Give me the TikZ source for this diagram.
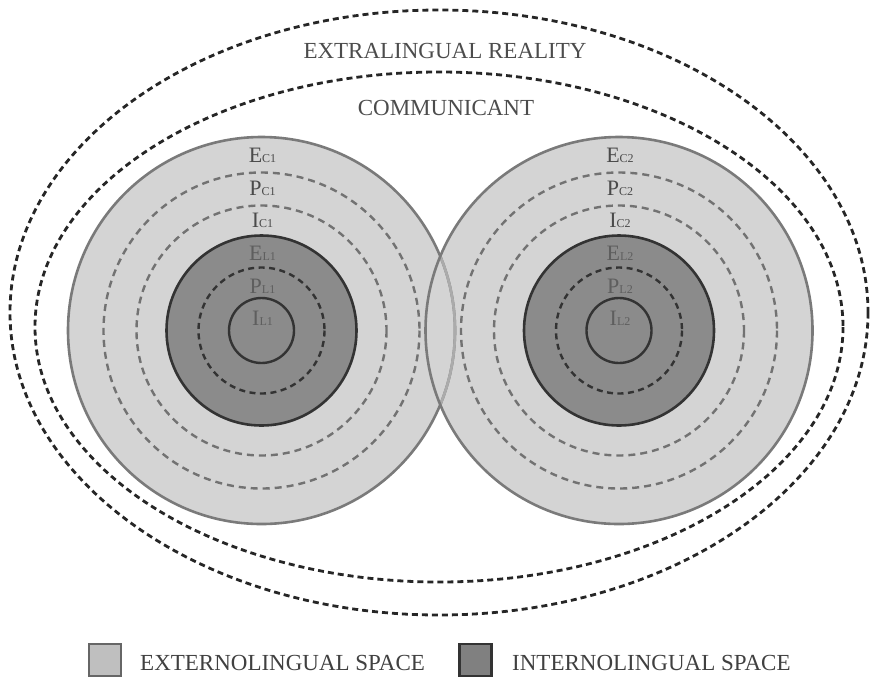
\documentclass[tikz,border=0pt]{standalone}
\usepackage{fontspec}
\setmainfont{Liberation Serif}

\definecolor{extgray}{HTML}{D4D4D4}
\definecolor{intgray}{HTML}{8B8B8B}
\definecolor{rimgray}{HTML}{7A7A7A}
\definecolor{rimlight}{HTML}{ABABAB}
\definecolor{dashgray}{HTML}{727272}
\definecolor{coregray}{HTML}{333333}
\definecolor{lblext}{HTML}{4A4A4A}
\definecolor{lblint}{HTML}{5E5E5E}

\newcommand{\lowidx}[1]{{\fontsize{12}{12}\selectfont#1}}

\tikzset{
  rim/.style={draw=rimgray,line width=2.6pt},
  extdash/.style={draw=dashgray,line width=2.4pt,dash pattern=on 7pt off 5pt},
  core/.style={draw=coregray,fill=intgray,line width=2.6pt},
  intdash/.style={draw=coregray,line width=2.4pt,dash pattern=on 6pt off 4.5pt},
  intline/.style={draw=coregray,line width=2.4pt},
  reality/.style={draw=black!85,line width=2.8pt,dash pattern=on 6pt off 4pt},
  lbl/.style={inner sep=0pt,anchor=base,font=\fontsize{22}{24}\selectfont},
  title/.style={inner sep=0pt,anchor=base,text=black!70,font=\fontsize{23}{26}\selectfont},
  keybox/.style={draw,line width=2.6pt,minimum size=32pt,inner sep=0pt},
  keytext/.style={inner sep=0pt,text=black!75,font=\fontsize{23}{26}\selectfont},
}

\begin{document}
\begin{tikzpicture}[x=1pt,y=-1pt]

        % -----------
        % Parameters.
        % -----------

        \pgfmathsetmacro{\xLeft}{261.5}     % Centre of 1st communicant.
        \pgfmathsetmacro{\xRight}{619}      % Centre of 2nd communicant.
        \pgfmathsetmacro{\yCentre}{330.5}   % Common centre height.
        \pgfmathsetmacro{\radiusEC}{193.5}  % Outer communicant circle.
        \pgfmathsetmacro{\radiusPC}{158}
        \pgfmathsetmacro{\radiusIC}{125}
        \pgfmathsetmacro{\radiusEL}{95}     % Internolingual core.
        \pgfmathsetmacro{\radiusPL}{63}
        \pgfmathsetmacro{\radiusIL}{32.5}

        \useasboundingbox (0,0) rectangle (877,678);

        % --------
        % Drawing.
        % --------

        % Extralingual reality and communicant.
        \draw[reality] (439,312.5) ellipse [x radius=429, y radius=302.5];
        \draw[reality] (439,327) ellipse [x radius=404, y radius=255];
        \node[title] (reality) at (445,58) {EXTRALINGUAL REALITY};
        \node[title] (communicant) at (446,115) {COMMUNICANT};

        % Externolingual discs.
        \foreach \xc in {\xLeft,\xRight}
          \fill[extgray] (\xc,\yCentre) circle (\radiusEC);

        % Rims, left one lighter where the right disc covers it.
        \draw[rim] (\xLeft,\yCentre) circle (\radiusEC);
        \begin{scope}
          \clip (\xRight,\yCentre) circle (\radiusEC);
          \draw[rim,draw=rimlight] (\xLeft,\yCentre) circle (\radiusEC);
        \end{scope}
        \draw[rim] (\xRight,\yCentre) circle (\radiusEC);

        % Rings of each communicant.
        \foreach \xc/\k in {\xLeft/1,\xRight/2}{
          \draw[extdash] (\xc,\yCentre) circle (\radiusPC);
          \draw[extdash] (\xc,\yCentre) circle (\radiusIC);
          \draw[core] (\xc,\yCentre) circle (\radiusEL);
          \draw[intdash] (\xc,\yCentre) circle (\radiusPL);
          \draw[intline] (\xc,\yCentre) circle (\radiusIL);

          \node[lbl,text=lblext] (ec\k) at (\xc+1,162) {E\lowidx{C\k}};
          \node[lbl,text=lblext] (pc\k) at (\xc+1,195) {P\lowidx{C\k}};
          \node[lbl,text=lblext] (ic\k) at (\xc+1,227) {I\lowidx{C\k}};
          \node[lbl,text=lblint] (el\k) at (\xc+1,260) {E\lowidx{L\k}};
          \node[lbl,text=lblint] (pl\k) at (\xc+1,293) {P\lowidx{L\k}};
          \node[lbl,text=lblint] (il\k) at (\xc+1,325) {I\lowidx{L\k}};
        }

        % Legend.
        \node[keybox,draw=black!60,fill=extgray!90!black] (keyext) at (105,660) {};
        \node[keytext,anchor=base west] (keyextlabel) at (140,670) {EXTERNOLINGUAL SPACE};
        \node[keybox,draw=coregray,fill=intgray!92!black] (keyint) at (475.5,660) {};
        \node[keytext,anchor=base west] (keyintlabel) at (512,670) {INTERNOLINGUAL SPACE};

\end{tikzpicture}
\end{document}
